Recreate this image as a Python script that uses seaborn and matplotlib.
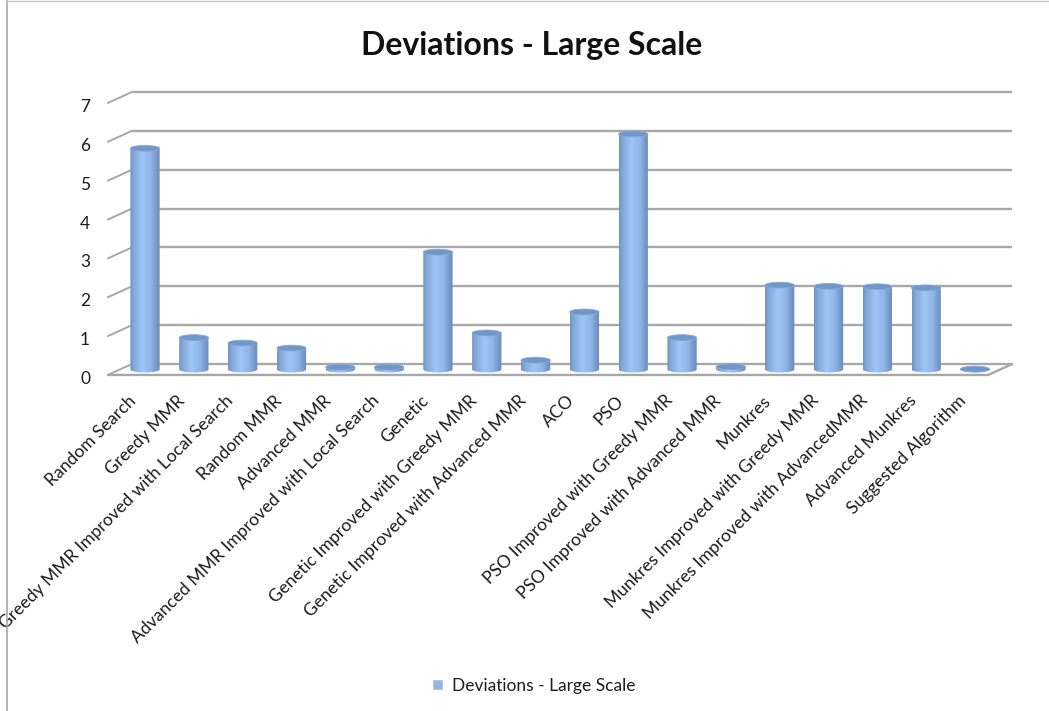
import numpy as np
import pandas as pd
import matplotlib
matplotlib.use("Agg")
import matplotlib.pyplot as plt
import seaborn as sns
from matplotlib.colors import LinearSegmentedColormap
from matplotlib.lines import Line2D
from matplotlib.patches import Ellipse, PathPatch
from matplotlib.path import Path
from matplotlib.transforms import ScaledTranslation

# Mean deviation per algorithm on the large-scale instances
algorithms = [
    "Random Search", "Greedy MMR", "Greedy MMR Improved with Local Search",
    "Random MMR", "Advanced MMR", "Advanced MMR Improved with Local Search",
    "Genetic", "Genetic Improved with Greedy MMR",
    "Genetic Improved with Advanced MMR", "ACO", "PSO",
    "PSO Improved with Greedy MMR", "PSO Improved with Advanced MMR",
    "Munkres", "Munkres Improved with Greedy MMR",
    "Munkres Improved with AdvancedMMR", "Advanced Munkres",
    "Suggested Algorithm",
]
deviations = [5.69, 0.82, 0.68, 0.55, 0.06, 0.06, 3.02, 0.94, 0.24, 1.48,
              6.06, 0.82, 0.07, 2.17, 2.14, 2.13, 2.10, 0.01]
series_name = "Deviations - Large Scale"
y_ticks = [0, 1, 2, 3, 4, 5, 6, 7]

W, H = 1049, 711
sns.set_style("white")
plt.rcParams["font.family"] = ["Lato", "DejaVu Sans"]
TEXT = "#1c1c1c"
GRID = "#a8a8a8"
BAR = "#95b7e3"

fig = plt.figure(figsize=(W / 100, H / 100), dpi=100, facecolor="white")
ax = fig.add_axes([120.6 / W, (H - 369.5) / H, 878.8 / W, 272 / H])

df = pd.DataFrame({"algorithm": algorithms, "deviation": deviations})
sns.barplot(data=df, x="algorithm", y="deviation", color=BAR, width=0.6,
            saturation=1, label=series_name, ax=ax, zorder=3)

ax.set_xlim(-0.5, 17.5)
ax.set_ylim(0, 7)
ax.set_xlabel("")
ax.set_ylabel("")
sns.despine(ax=ax, left=True, bottom=True)

# Depth of the floor, in data units of each axis
back_dy, front_dy = 0.14, -0.14
left_front, left_back = -0.76, -0.27
right_front, right_back = 17.27, 17.76

# Back wall and side wall gridlines
for v in y_ticks:
    ax.plot([left_back, right_back], [v + back_dy] * 2, color=GRID, lw=1.7,
            clip_on=False, zorder=1, solid_capstyle="butt")
    ax.plot([left_front, left_back], [v + front_dy, v + back_dy], color=GRID,
            lw=1.4, clip_on=False, zorder=1)
# Front and right edges of the floor
ax.plot([left_front, right_front, right_back],
        [front_dy, front_dy, back_dy], color=GRID, lw=1.7, clip_on=False, zorder=1)

# Shade each bar as a cylinder
shade = LinearSegmentedColormap.from_list(
    "cylinder", [(0, "#7395c3"), (0.12, "#83a8da"), (0.42, "#9fc6f7"),
                 (0.7, "#90b5e7"), (0.9, "#7397c8"), (1, "#6a8bb9")])
ramp = np.linspace(0, 1, 64).reshape(1, -1)
cap_h = 0.15
for patch in list(ax.patches):
    x0, w, v = patch.get_x(), patch.get_width(), patch.get_height()
    xc = x0 + w / 2
    t = np.linspace(np.pi, 2 * np.pi, 25)
    bx = xc + w / 2 * np.cos(t)
    by = cap_h / 2 * np.sin(t)
    verts = np.column_stack([np.r_[bx, x0 + w, x0], np.r_[by, v, v]])
    verts = np.vstack([verts, verts[0]])
    outline = PathPatch(Path(verts, closed=True), transform=ax.transData,
                        fc="none", ec="none")
    ax.add_patch(outline)
    img = ax.imshow(ramp, cmap=shade, extent=[x0, x0 + w, -cap_h, v + cap_h],
                    aspect="auto", zorder=4)
    img.set_clip_path(outline)
    # Let the rounded foot of the cylinder extend below the axes box
    img.set_clip_box(fig.bbox)
    ax.add_patch(Ellipse((xc, v), w, cap_h, fc="#7196c8", ec="#86aadb",
                         lw=0.6, zorder=5, clip_on=False))
    patch.set_visible(False)

ax.set_xlim(-0.5, 17.5)
ax.set_ylim(0, 7)

# Value labels follow the front edge of the side wall
ax.set_yticks(y_ticks)
ax.set_yticklabels(y_ticks, fontsize=12.5, color=TEXT)
ax.tick_params(axis="y", length=0, pad=22)
for lab in ax.get_yticklabels():
    lab.set_transform(lab.get_transform() +
                      ScaledTranslation(0, -8 / 100, fig.dpi_scale_trans))

ax.set_xticks(range(len(algorithms)))
ax.set_xticklabels(algorithms, rotation=45, ha="right", va="center",
                   rotation_mode="anchor", fontsize=12.6, color=TEXT)
ax.tick_params(axis="x", length=0, pad=20.5)
for lab in ax.get_xticklabels():
    lab.set_transform(lab.get_transform() +
                      ScaledTranslation(-12 / 100, 0, fig.dpi_scale_trans))

fig.text(532 / W, 1 - 45 / H, series_name, ha="center", va="center",
         fontsize=23, fontweight="bold", color="#111111")

leg = ax.legend(loc="center", bbox_to_anchor=(534 / W, 1 - 686 / H),
                bbox_transform=fig.transFigure, frameon=False, fontsize=12.5,
                handlelength=0.6, handleheight=0.6, handletextpad=0.55,
                labelcolor=TEXT)
leg.legend_handles[0].set_visible(True)
leg.legend_handles[0].set_facecolor(BAR)

# Thin frame of the chart area along the left and top edges
fig.add_artist(Line2D([7 / W, 7 / W], [0, 1], color="#a8a8a8", lw=1.2))
fig.add_artist(Line2D([7 / W, 1], [1 - 1 / H, 1 - 1 / H], color="#c8c8c8", lw=1.0))

fig.savefig("out.png", dpi=100)
